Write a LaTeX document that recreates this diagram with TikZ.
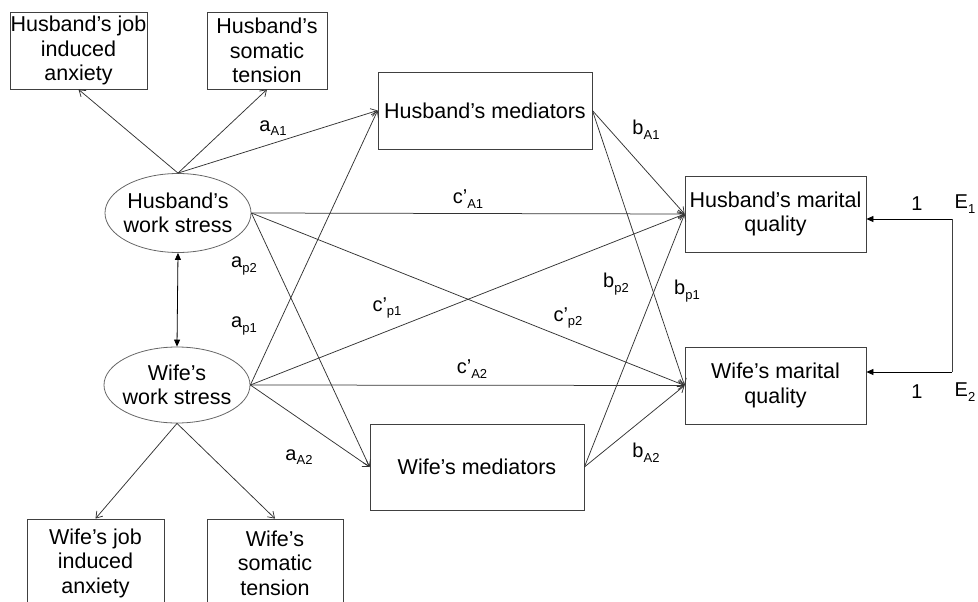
\documentclass[tikz,border=0pt]{standalone}
\usepackage{fontspec}
\setmainfont{Liberation Sans}
\usetikzlibrary{shapes.geometric,arrows.meta}
\newcommand\sublab[2]{#1\raisebox{-4.5pt}{\fontsize{13}{13}\selectfont #2}}
\begin{document}
\begin{tikzpicture}[x=1pt,y=-1pt,
  box/.style={draw=black!75,line width=0.8pt,rectangle,inner sep=0pt,align=center,
    font=\fontsize{21.5}{24.5}\selectfont},
  ell/.style={draw=black!60,line width=0.8pt,ellipse,inner sep=0pt,minimum width=146pt},
  elltext/.style={inner sep=0pt,align=center,font=\fontsize{21.5}{24.5}\selectfont},
  path/.style={draw=black!80,line width=0.75pt,-{Straight Barb[length=6pt,width=8pt]}},
  fil/.style={draw=black,line width=0.8pt,-{Triangle[length=7pt,width=6pt]}},
  lab/.style={inner sep=0pt,font=\fontsize{20}{22}\selectfont}]
\useasboundingbox (0,0) rectangle (978,602);
% boxes
\node[box,minimum width=137pt,minimum height=77pt] (hja) at (78.5,50.5) {Husband’s job\\induced\\anxiety};
\node[box,minimum width=120pt,minimum height=77pt] (hst) at (267,50.5) {Husband’s\\somatic\\tension};
\node[box,minimum width=214pt,minimum height=77pt] (hmed) at (485,110.5) {Husband’s mediators};
\node[box,minimum width=181pt,minimum height=76pt] (hmq) at (775.5,214) {Husband’s marital\\quality};
\node[box,minimum width=181pt,minimum height=77pt] (wmq) at (775.5,385.5) {Wife’s marital\\quality};
\node[box,minimum width=214pt,minimum height=86pt] (wmed) at (477,467) {Wife’s mediators};
\node[box,minimum width=137pt,minimum height=88pt] (wja) at (95.5,563) {Wife’s job\\induced\\anxiety};
\node[box,minimum width=136pt,minimum height=88pt] (wst) at (275,563) {Wife’s\\somatic\\tension};
% ellipses
\node[ell,minimum height=79pt] (hws) at (178,213) {};
\node[elltext] (hwst) at (hws.center) {Husband’s\\work stress};
\node[ell,minimum height=76pt] (wws) at (177,385) {};
\node[elltext] (wwst) at (wws.center) {Wife’s\\work stress};
% E coordinates
\coordinate (e1) at (952,219);
\coordinate (e2) at (952,372);
% indicator paths
\draw[path] (hws.north) -- (hja.south);
\draw[path] (hws.north) -- (hst.south);
\draw[path] (wws.south) -- (wja.north);
\draw[path] (wws.south) -- (wst.north);
% a paths
\draw[path] (hws.north) -- (hmed.west);
\draw[path] (wws.east) -- (hmed.west);
\draw[path] (hws.east) -- (wmed.west);
\draw[path] (wws.east) -- (wmed.west);
% c paths
\draw[path] (hws.east) -- (hmq.west);
\draw[path] (hws.east) -- (wmq.west);
\draw[path] (wws.east) -- (hmq.west);
\draw[path] (wws.east) -- (wmq.west);
% b paths
\draw[path] (hmed.east) -- (hmq.west);
\draw[path] (hmed.east) -- (wmq.west);
\draw[path] (wmed.east) -- (hmq.west);
\draw[path] (wmed.east) -- (wmq.west);
% covariance
\draw[draw=black,line width=0.8pt,{Triangle[length=7pt,width=6pt]}-{Triangle[length=7pt,width=6pt]}] (hws.south) -- (wws.north);
% errors
\draw[line width=0.8pt,draw=black!75] (e1) -- (e2);
\draw[fil] (e1) -- (hmq.east |- e1);
\draw[fil] (e2) -- (wmq.east |- e2);
% labels
\node[lab] (laA1) at (273,128) {\sublab{a}{A1}};
\node[lab] (lcA1) at (468,199) {\sublab{c'}{A1}};
\node[lab] (lap2) at (244,266) {\sublab{a}{p2}};
\node[lab] (lap1) at (244,326) {\sublab{a}{p1}};
\node[lab] (lcp1) at (387,308) {\sublab{c'}{p1}};
\node[lab] (lcp2) at (568,318) {\sublab{c'}{p2}};
\node[lab] (lbp2) at (616,284) {\sublab{b}{p2}};
\node[lab] (lbA1) at (646,130) {\sublab{b}{A1}};
\node[lab] (lbp1) at (687,291) {\sublab{b}{p1}};
\node[lab] (lcA2) at (472,369) {\sublab{c'}{A2}};
\node[lab] (lbA2) at (646,453) {\sublab{b}{A2}};
\node[lab] (laA2) at (299,457) {\sublab{a}{A2}};
\node[lab] (one1) at (917,204) {1};
\node[lab] (one2) at (917,392) {1};
\node[lab] (lE1) at (965,204) {\sublab{E}{1}};
\node[lab] (lE2) at (965,392) {\sublab{E}{2}};
\end{tikzpicture}
\end{document}
